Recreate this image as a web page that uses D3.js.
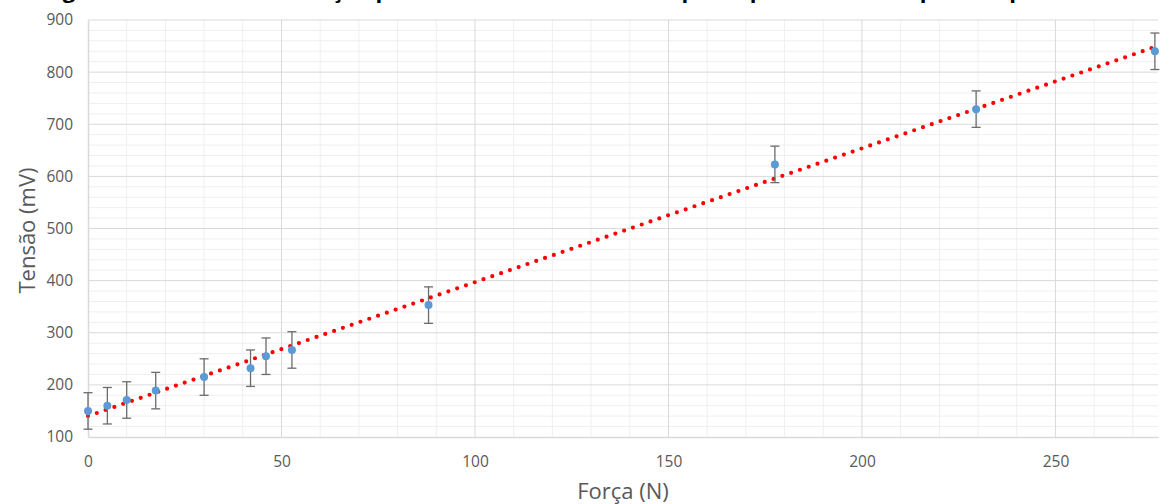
<!DOCTYPE html>
<html>
<head>
<meta charset="utf-8">
<script src="https://cdn.jsdelivr.net/npm/d3@7"></script>
<style>
  html, body { margin: 0; padding: 0; background: #ffffff; }
  svg { display: block; }
  text { font-family: "Open Sans", "Noto Sans", sans-serif; }
</style>
</head>
<body>
<svg id="chart" width="1160" height="504"></svg>
<script>
// Measured force (N) and output voltage (mV)
const forca   = [0, 5, 10, 17.5, 30, 42, 46, 52.7, 88, 177.5, 229.5, 275.7];
const tensao  = [150, 160, 171, 189, 215, 232, 255, 267, 353, 623, 729, 840];
const erro    = [35, 35, 35, 35, 35, 35, 35, 35, 35, 35, 35, 35];
const xTicks  = [0, 50, 100, 150, 200, 250];
const yTicks  = [100, 200, 300, 400, 500, 600, 700, 800, 900];
const titulo  = "Figura 1 – Curva de calibração para o sensor resistivo com pesos padrão sobre a placa superior";

const svg = d3.select("#chart");
const m = { left: 88, right: 2, top: 20, bottom: 67 };
const W = 1160, H = 504;

const x = d3.scaleLinear().domain([0, 276.5]).range([m.left, W - m.right]);
const y = d3.scaleLinear().domain([100, 900]).range([H - m.bottom, m.top]);

// Title (its upper part runs off the top edge of the page)
svg.append("text")
  .attr("x", 44).attr("y", -2)
  .attr("font-size", 22).attr("font-weight", "bold").attr("fill", "#000")
  .text(titulo);

const g = svg.append("g");

// Minor grid
const xMinor = d3.range(10, 276.5, 10).filter(v => v % 50 !== 0);
const yMinor = d3.range(120, 900, 20).filter(v => v % 100 !== 0);
g.selectAll(".xminor").data(xMinor).join("line")
  .attr("x1", d => x(d)).attr("x2", d => x(d))
  .attr("y1", y(100)).attr("y2", y(900))
  .attr("stroke", "#efefef").attr("stroke-width", 1);
g.selectAll(".yminor").data(yMinor).join("line")
  .attr("x1", x(0)).attr("x2", W - m.right)
  .attr("y1", d => y(d)).attr("y2", d => y(d))
  .attr("stroke", "#efefef").attr("stroke-width", 1);

// Major grid
g.selectAll(".xmajor").data(xTicks.filter(d => d > 0)).join("line")
  .attr("x1", d => x(d)).attr("x2", d => x(d))
  .attr("y1", y(100)).attr("y2", y(900))
  .attr("stroke", "#d9d9d9").attr("stroke-width", 1);
g.selectAll(".ymajor").data(yTicks.filter(d => d > 100)).join("line")
  .attr("x1", x(0)).attr("x2", W - m.right)
  .attr("y1", d => y(d)).attr("y2", d => y(d))
  .attr("stroke", "#d9d9d9").attr("stroke-width", 1);

// Axes
const xAxis = d3.axisBottom(x).tickValues(xTicks).tickSize(0).tickPadding(19);
const yAxis = d3.axisLeft(y).tickValues(yTicks).tickSize(0).tickPadding(15);

const gx = svg.append("g").attr("transform", `translate(0,${y(100)})`).call(xAxis);
gx.select(".domain").attr("stroke", "#d9d9d9").attr("stroke-width", 1.5);
gx.selectAll("text").attr("font-size", 15.5).attr("fill", "#595959")
  .attr("font-family", "'Open Sans', sans-serif");

const gy = svg.append("g").attr("transform", `translate(${x(0)},0)`).call(yAxis);
gy.select(".domain").attr("stroke", "#d9d9d9").attr("stroke-width", 1.5);
gy.selectAll("text").attr("font-size", 15.5).attr("fill", "#595959")
  .attr("font-family", "'Open Sans', sans-serif");

// Axis titles
svg.append("text")
  .attr("x", (m.left + W - m.right) / 2).attr("y", 499)
  .attr("text-anchor", "middle").attr("font-size", 22).attr("fill", "#595959")
  .text("Força (N)");
svg.append("text")
  .attr("transform", `translate(35,${(m.top + H - m.bottom) / 2 + 2}) rotate(-90)`)
  .attr("text-anchor", "middle").attr("font-size", 22).attr("fill", "#595959")
  .text("Tensão (mV)");

// Linear trend line (least squares)
const n = forca.length;
const mx = d3.mean(forca), my = d3.mean(tensao);
let sxy = 0, sxx = 0;
for (let i = 0; i < n; i++) {
  sxy += (forca[i] - mx) * (tensao[i] - my);
  sxx += (forca[i] - mx) ** 2;
}
const slope = sxy / sxx, intercept = my - slope * mx;
const x0 = 0, x1 = d3.max(forca);
svg.append("line")
  .attr("x1", x(x0)).attr("y1", y(intercept + slope * x0))
  .attr("x2", x(x1)).attr("y2", y(intercept + slope * x1))
  .attr("stroke", "#ff0000").attr("stroke-width", 4.2)
  .attr("stroke-linecap", "round").attr("stroke-dasharray", "0 9.3");

// Error bars
const pts = forca.map((f, i) => ({ f, t: tensao[i], e: erro[i] }));
const eb = svg.append("g").attr("stroke", "#6b6b6b").attr("stroke-width", 1.3);
eb.selectAll(".v").data(pts).join("line")
  .attr("x1", d => x(d.f)).attr("x2", d => x(d.f))
  .attr("y1", d => y(d.t - d.e)).attr("y2", d => y(d.t + d.e));
eb.selectAll(".top").data(pts).join("line")
  .attr("x1", d => x(d.f) - 4.5).attr("x2", d => x(d.f) + 4.5)
  .attr("y1", d => y(d.t + d.e)).attr("y2", d => y(d.t + d.e));
eb.selectAll(".bot").data(pts).join("line")
  .attr("x1", d => x(d.f) - 4.5).attr("x2", d => x(d.f) + 4.5)
  .attr("y1", d => y(d.t - d.e)).attr("y2", d => y(d.t - d.e));

// Data points
svg.append("g").selectAll("circle").data(pts).join("circle")
  .attr("cx", d => x(d.f)).attr("cy", d => y(d.t))
  .attr("r", 4).attr("fill", "#5b9bd5");
</script>
</body>
</html>
